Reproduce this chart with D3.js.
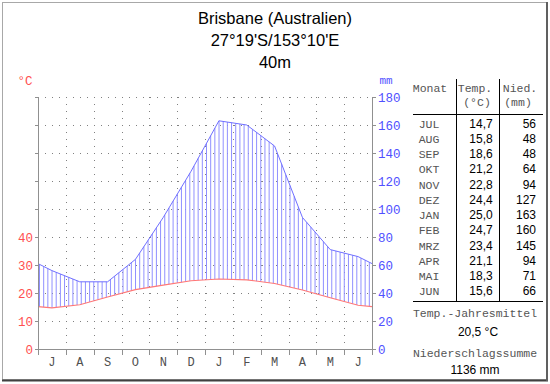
<!DOCTYPE html>
<html><head><meta charset="utf-8">
<script src="https://cdn.jsdelivr.net/npm/d3@7"></script>
<style>body{margin:0;background:#fff}svg{display:block}</style>
</head><body>
<script>
const axisMonths = ["J","A","S","O","N","D","J","F","M","A","M","J"];
const tableMonths = ["JUL","AUG","SEP","OKT","NOV","DEZ","JAN","FEB","MRZ","APR","MAI","JUN"];
const temps = [14.7,15.8,18.6,21.2,22.8,24.4,25.0,24.7,23.4,21.1,18.3,15.6];
const precip = [56,48,48,64,94,127,163,160,145,94,71,66];
const tempTicks = [0,10,20,30,40];
const precipTicks = [0,20,40,60,80,100,120,140,160,180];
const titleLines = ["Brisbane (Australien)","27°19'S/153°10'E","40m"];
const meanTemp = "20,5 °C";
const totalPrecip = "1136 mm";

const W=550,H=384;
const svg=d3.select("body").append("svg").attr("width",W).attr("height",H);
const mono="'Liberation Mono','Courier New',monospace";
const sans="'Liberation Sans',Arial,sans-serif";

// frame
svg.append("rect").attr("x",2.5).attr("y",2.5).attr("width",544).attr("height",377)
  .attr("fill","#fff").attr("stroke","#a8a8a8");
svg.append("line").attr("x1",2).attr("x2",548).attr("y1",380.5).attr("y2",380.5).attr("stroke","#404040").attr("stroke-width",2);
svg.append("line").attr("x1",547).attr("x2",547).attr("y1",2).attr("y2",381).attr("stroke","#606060").attr("stroke-width",2);

// title
svg.selectAll("text.title").data(titleLines).join("text")
  .attr("x",275).attr("y",(d,i)=>24+i*22).attr("text-anchor","middle")
  .attr("font-family",sans).attr("font-size",16.5).attr("fill","#000").text(d=>d);

const x=d3.scaleLinear().domain([0,12]).range([38,372]);
const yT=d3.scaleLinear().domain([0,90]).range([349,97]);
const yP=d3.scaleLinear().domain([0,180]).range([349,97]);

const g=svg.append("g");
// grid
const dot="#808080";
g.selectAll("line.hg").data(precipTicks.slice(1)).join("line")
  .attr("x1",x(0)).attr("x2",x(12)).attr("y1",d=>yP(d)+0.5).attr("y2",d=>yP(d)+0.5)
  .attr("stroke",dot).attr("stroke-dasharray","1,6");
g.selectAll("line.vg").data(d3.range(1,12)).join("line")
  .attr("x1",d=>Math.round(x(d))+0.5).attr("x2",d=>Math.round(x(d))+0.5).attr("y1",yP(180)).attr("y2",yP(0))
  .attr("stroke",dot).attr("stroke-dasharray","1,6");

// series points: edges use avg of first & last months
function pts(arr){
  const e=(arr[0]+arr[arr.length-1])/2;
  return [[0,e],...arr.map((v,i)=>[i+0.5,v]),[12,e]];
}
const tp=pts(temps), pp=pts(precip);
function interp(p,xv){
  for(let i=0;i<p.length-1;i++){
    if(xv>=p[i][0]&&xv<=p[i+1][0]){
      const t=(xv-p[i][0])/(p[i+1][0]-p[i][0]);
      return p[i][1]+t*(p[i+1][1]-p[i][1]);
    }
  }
  return p[p.length-1][1];
}
// hatching
const hatchX=d3.range(x(0)+1.5,x(12),334/80);
g.selectAll("line.h").data(hatchX).join("line")
  .each(function(px){
    const xv=x.invert(px);
    const a=yT(interp(tp,xv)), b=yP(interp(pp,xv));
    d3.select(this).attr("x1",px).attr("x2",px).attr("y1",a).attr("y2",Math.min(a,b));
  })
  .attr("stroke","#9090ff").attr("stroke-width",1);

// lines
g.append("path").datum(pp).attr("fill","none").attr("stroke","#7070ff").attr("stroke-width",1)
  .attr("d",d3.line().x(d=>x(d[0])).y(d=>yP(d[1])));
g.append("path").datum(tp).attr("fill","none").attr("stroke","#ff7878").attr("stroke-width",1.1)
  .attr("d",d3.line().x(d=>x(d[0])).y(d=>yT(d[1])));

// axes
const ax="#909090";
g.append("line").attr("x1",38.5).attr("x2",38.5).attr("y1",97).attr("y2",349).attr("stroke",ax);
g.append("line").attr("x1",372.5).attr("x2",372.5).attr("y1",97).attr("y2",349).attr("stroke",ax);
g.append("line").attr("x1",38).attr("x2",373).attr("y1",349.5).attr("y2",349.5).attr("stroke",ax);
g.selectAll("line.lt").data(precipTicks).join("line")
  .attr("x1",35).attr("x2",38.5).attr("y1",d=>yP(d)+0.5).attr("y2",d=>yP(d)+0.5).attr("stroke",ax);
g.selectAll("line.rt").data(precipTicks).join("line")
  .attr("x1",372.5).attr("x2",376).attr("y1",d=>yP(d)+0.5).attr("y2",d=>yP(d)+0.5).attr("stroke",ax);
g.selectAll("line.bt").data(d3.range(0,13)).join("line")
  .attr("x1",d=>Math.round(x(d))+0.5).attr("x2",d=>Math.round(x(d))+0.5).attr("y1",349).attr("y2",355).attr("stroke",ax);

g.selectAll("text.tl").data(tempTicks).join("text")
  .attr("x",33).attr("y",d=>yT(d)+4.5).attr("text-anchor","end")
  .attr("font-family",mono).attr("font-size",12.5).attr("fill","#ff5050").text(d=>d);
g.selectAll("text.pl").data(precipTicks).join("text")
  .attr("x",378).attr("y",d=>yP(d)+4.5)
  .attr("font-family",mono).attr("font-size",12.5).attr("fill","#5050ff").text(d=>d);
g.selectAll("text.ml").data(axisMonths).join("text")
  .attr("x",(d,i)=>x(i+0.5)).attr("y",366).attr("text-anchor","middle")
  .attr("font-family",mono).attr("font-size",12).attr("fill","#505050").text(d=>d);
svg.append("text").attr("x",25).attr("y",85).attr("text-anchor","middle")
  .attr("font-family",mono).attr("font-size",12.5).attr("fill","#ff5050").text("°C");
svg.append("text").attr("x",386).attr("y",84).attr("text-anchor","middle")
  .attr("font-family",mono).attr("font-size",11).attr("fill","#5050ff").text("mm");

// table
const tg=svg.append("g");
const tc="#555555";
tg.append("text").attr("x",430).attr("y",92).attr("text-anchor","middle").attr("font-family",mono).attr("font-size",11.5).attr("fill",tc).text("Monat");
tg.append("text").attr("x",475).attr("y",92).attr("text-anchor","middle").attr("font-family",mono).attr("font-size",11.5).attr("fill",tc).text("Temp.");
tg.append("text").attr("x",520).attr("y",92).attr("text-anchor","middle").attr("font-family",mono).attr("font-size",11.5).attr("fill",tc).text("Nied.");
tg.append("text").attr("x",477).attr("y",106).attr("text-anchor","middle").attr("font-family",mono).attr("font-size",11.5).attr("fill",tc).text("(°C)");
tg.append("text").attr("x",518).attr("y",106).attr("text-anchor","middle").attr("font-family",mono).attr("font-size",11.5).attr("fill",tc).text("(mm)");
tg.append("line").attr("x1",456.5).attr("x2",456.5).attr("y1",79).attr("y2",301).attr("stroke","#000");
tg.append("line").attr("x1",499.5).attr("x2",499.5).attr("y1",79).attr("y2",301).attr("stroke","#000");
tg.append("line").attr("x1",413).attr("x2",543).attr("y1",114.5).attr("y2",114.5).attr("stroke","#000");
tg.append("line").attr("x1",413).attr("x2",543).attr("y1",301.5).attr("y2",301.5).attr("stroke","#000");
const rowY=i=>127.5+i*15.27;
tg.selectAll("text.tm").data(tableMonths).join("text")
  .attr("x",429).attr("y",(d,i)=>rowY(i)).attr("text-anchor","middle")
  .attr("font-family",mono).attr("font-size",11.5).attr("fill",tc).text(d=>d);
tg.selectAll("text.tt").data(temps).join("text")
  .attr("x",481).attr("y",(d,i)=>rowY(i)).attr("text-anchor","middle")
  .attr("font-family",sans).attr("font-size",12).attr("fill","#000").text(d=>d.toFixed(1).replace(".",","));
tg.selectAll("text.tp").data(precip).join("text")
  .attr("x",536).attr("y",(d,i)=>rowY(i)).attr("text-anchor","end")
  .attr("font-family",sans).attr("font-size",12).attr("fill","#000").text(d=>d);
tg.append("text").attr("x",475).attr("y",317).attr("text-anchor","middle").attr("font-family",mono).attr("font-size",11.5).attr("fill",tc).text("Temp.-Jahresmittel");
tg.append("text").attr("x",478).attr("y",335.5).attr("text-anchor","middle").attr("font-family",sans).attr("font-size",12).attr("fill","#000").text(meanTemp);
tg.append("text").attr("x",475).attr("y",357).attr("text-anchor","middle").attr("font-family",mono).attr("font-size",11.5).attr("fill",tc).text("Niederschlagssumme");
tg.append("text").attr("x",475).attr("y",374).attr("text-anchor","middle").attr("font-family",sans).attr("font-size",12).attr("fill","#000").text(totalPrecip);
</script>
</body></html>
